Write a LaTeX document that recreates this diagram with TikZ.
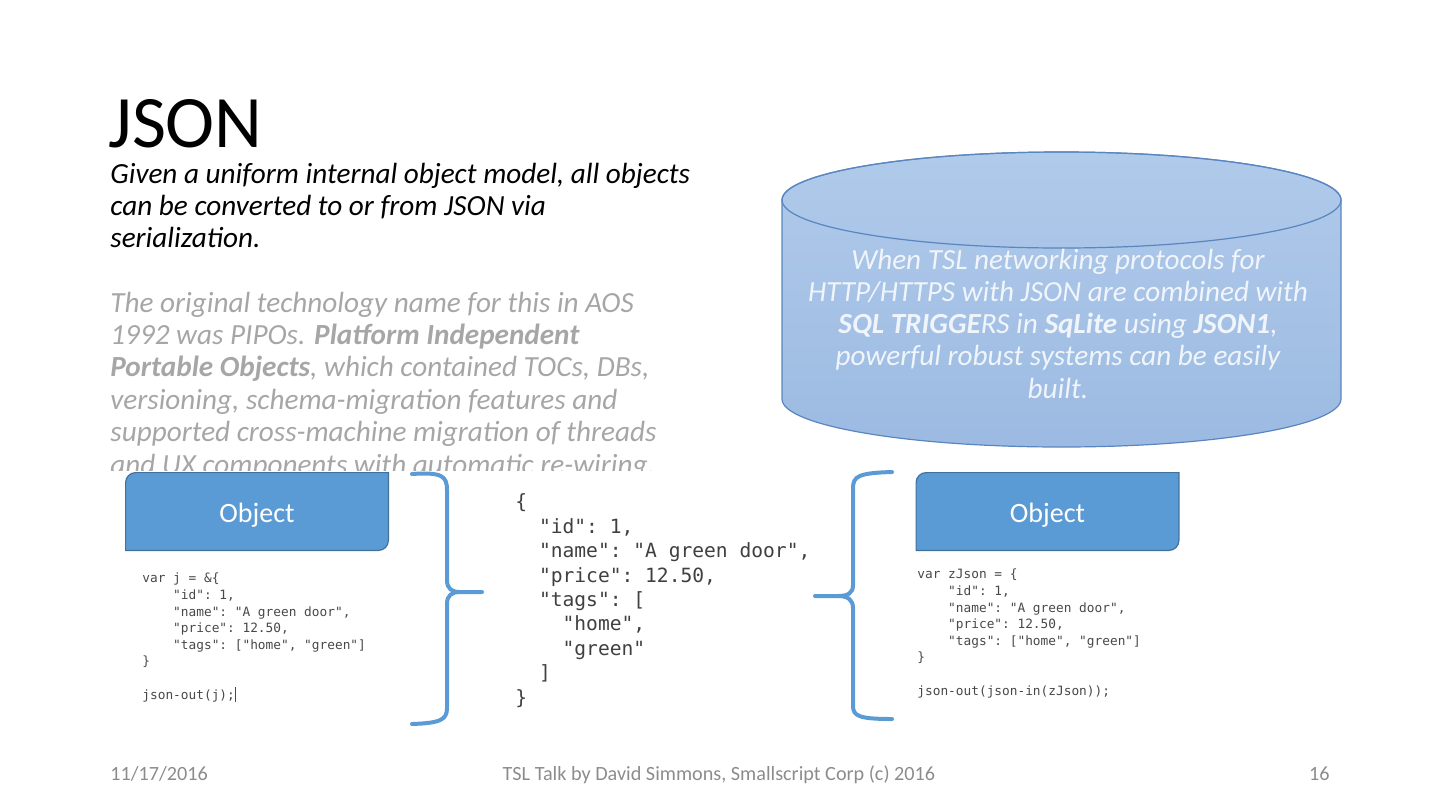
\documentclass[tikz,border=0pt]{standalone}
\usepackage{fontspec}
\setmainfont{Carlito}
\setmonofont{DejaVu Sans Mono}
\usepackage{xcolor}
\usetikzlibrary{backgrounds}
\definecolor{objblue}{HTML}{5B9BD5}
\definecolor{objedge}{HTML}{41719C}
\definecolor{cyltop}{HTML}{B0CAEA}
\definecolor{cylbot}{HTML}{9CBAE2}
\definecolor{cyledge}{HTML}{5A86C0}
\definecolor{cyltext}{HTML}{F0F5FB}
\definecolor{notegray}{HTML}{A6A6A6}
\definecolor{footgray}{HTML}{8C8C8C}
\definecolor{codegray}{HTML}{484848}

\begin{document}
\begin{tikzpicture}[x=0.5pt, y=-0.5pt,
  objbox/.style={minimum width=131pt, minimum height=38.5pt, inner sep=0pt,
    text height=10.8pt, text depth=0pt, text=white, font=\fontsize{14}{16}\selectfont},
  objfill/.style={fill=objblue, draw=objedge, line width=0.6pt},
  cylbody/.style={top color=cyltop, bottom color=cylbot, draw=cyledge, line width=0.6pt},
  bracket/.style={draw=objblue, line width=2pt, line cap=round},
  codesmall/.style={anchor=base west, inner sep=0pt, align=left, text=codegray,
    font=\ttfamily\fontsize{6.4}{8.3}\selectfont},
  codebig/.style={anchor=base west, inner sep=0pt, align=left, text=black!75,
    font=\ttfamily\fontsize{9.8}{12.2}\selectfont},
  footer/.style={inner sep=0pt, text=footgray, font=\fontsize{10.1}{12}\selectfont}
]
\useasboundingbox (0,0) rectangle (1440,810);

% heading and notes (base = last line)
\node[anchor=base west, inner sep=0pt, font=\fontsize{37}{42}\selectfont] (title) at (108,147) {JSON};
\node[anchor=base west, inner sep=0pt, align=left, font=\itshape\fontsize{14.6}{16}\selectfont]
  (lead) at (110,247) {Given a uniform internal object model, all objects\\can be converted to or from JSON via\\serialization.};
\begin{scope}
  \clip (100,280) rectangle (720,470);
  \node[anchor=base west, inner sep=0pt, align=left, text=notegray, font=\itshape\fontsize{14.6}{16.2}\selectfont]
    (legacy) at (110,474) {The original technology name for this in AOS\\1992 was PIPOs. \textbf{Platform Independent}\\\textbf{Portable Objects}, which contained TOCs, DBs,\\versioning, schema-migration features and\\supported cross-machine migration of threads\\and UX components with automatic re-wiring.};
\end{scope}

% database cylinder
\path[cylbody] (782,200) -- (782,399)
  arc[start angle=180, end angle=360, x radius=139.75pt, y radius=24pt] -- (1341,200)
  arc[start angle=0, end angle=180, x radius=139.75pt, y radius=24pt] -- cycle;
\draw[cyledge, line width=0.6pt] (1061.5,200) ellipse [x radius=139.75pt, y radius=24pt];
\node[anchor=base, inner sep=0pt, align=center, text=cyltext, font=\itshape\fontsize{14.6}{16.1}\selectfont]
  (dbnote) at (1058,398) {When TSL networking protocols for\\HTTP/HTTPS with JSON are combined with\\\textbf{SQL TRIGGE}RS in \textbf{SqLite} using \textbf{JSON1},\\powerful robust systems can be easily\\built.};

% object boxes
\node[objbox] (objL) at (257,511.5) {Object};
\node[objbox] (objR) at (1047.5,511.5) {Object};
\begin{scope}[on background layer]
  \foreach \objnode in {objL,objR}
    \path[objfill] (\objnode.north east) -- ([yshift=5pt]\objnode.south east)
      arc[start angle=0, end angle=-90, radius=5pt] -- (\objnode.south west)
      -- ([yshift=-5pt]\objnode.north west)
      arc[start angle=180, end angle=90, radius=5pt] -- cycle;
\end{scope}

% code samples
\node[codesmall] (codeL) at (142,699) {var j = \&\{\\\ \ \ \ "id": 1,\\\ \ \ \ "name": "A green door",\\\ \ \ \ "price": 12.50,\\\ \ \ \ "tags": ["home", "green"]\\\}\\[8.3pt]json-out(j);\rule[-1.5pt]{0.6pt}{7.5pt}};
\node[codebig] (wire) at (515,704) {\{\\\ \ "id": 1,\\\ \ "name": "A green door",\\\ \ "price": 12.50,\\\ \ "tags": [\\\ \ \ \ "home",\\\ \ \ \ "green"\\\ \ ]\\\}};
\node[codesmall] (codeR) at (917,695) {var zJson = \{\\\ \ \ \ "id": 1,\\\ \ \ \ "name": "A green door",\\\ \ \ \ "price": 12.50,\\\ \ \ \ "tags": ["home", "green"]\\\}\\[8.3pt]json-out(json-in(zJson));};

% braces
\draw[bracket] (412,474) .. controls (442,472) and (447,476) .. (447,490) -- (447,580)
  .. controls (447,589) and (452,592) .. (460,592) -- (482,592);
\draw[bracket] (460,592) .. controls (452,592) and (447,595) .. (447,604) -- (447,708)
  .. controls (447,720) and (440,723) .. (412,724);
\draw[bracket] (892,472) .. controls (859,473) and (853,476) .. (853,488) -- (853,585)
  .. controls (853,593) and (848,596) .. (838,596) -- (815,596);
\draw[bracket] (838,596) .. controls (848,596) and (853,600) .. (853,608) -- (853,706)
  .. controls (853,716) and (859,719) .. (892,719);

% footer
\node[footer, anchor=base west] (date) at (110,780) {11/17/2016};
\node[footer, anchor=base] (credit) at (719,780) {TSL Talk by David Simmons, Smallscript Corp (c) 2016};
\node[footer, anchor=base east] (page) at (1330,780) {16};
\end{tikzpicture}
\end{document}
